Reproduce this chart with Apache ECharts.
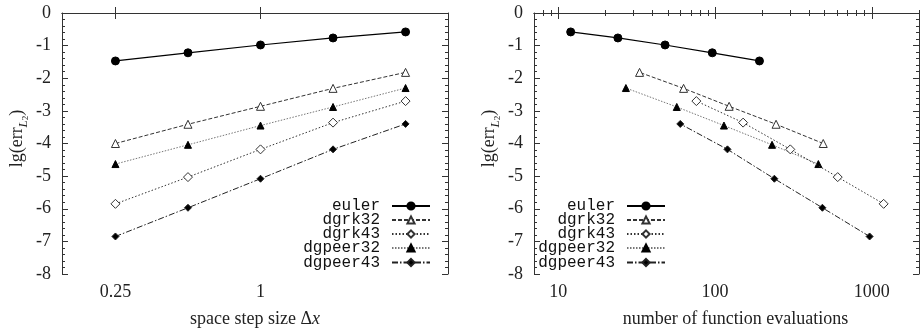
<!DOCTYPE html>
<html>
<head>
<meta charset="utf-8">
<script src="https://cdn.jsdelivr.net/npm/echarts@6/dist/echarts.min.js"></script>
<style>html,body{margin:0;padding:0;background:#fff}#c{width:921px;height:331px}</style>
</head>
<body>
<div id="c"></div>
<script>
// ---- data ----
const seriesNames = ['euler', 'dgrk32', 'dgrk43', 'dgpeer32', 'dgpeer43'];
const dx = [0.25, 0.5, 1, 2, 4];
const errEuler    = [-1.47, -1.22, -0.98, -0.765, -0.58];
const errDgrk32   = [-4.00, -3.41, -2.86, -2.31, -1.82];
const errDgrk43   = [-5.85, -5.03, -4.18, -3.36, -2.70];
const errDgpeer32 = [-4.63, -4.04, -3.45, -2.88, -2.30];
const errDgpeer43 = [-6.85, -5.97, -5.08, -4.18, -3.40];
const evEuler    = [192, 96, 48, 24, 12];
const evDgrk32   = [490, 245, 123, 63, 33];
const evDgrk43   = [1190, 606, 302, 151, 76];
const evDgpeer32 = [456, 231, 114, 57, 27];
const evDgpeer43 = [968, 484, 239, 120, 60];
const leftXTicks = [0.25, 1];
const rightXTicks = [10, 100, 1000];
const rightXMinorTicks = [8, 9, 20, 30, 40, 50, 60, 70, 80, 90, 200, 300, 400, 500, 600, 700, 800, 900, 2000];
const xTitleLeft = 'space step size Δ{i|x}';
const xTitleRight = 'number of function evaluations';
const yTitle = 'lg(err{sub|L}{sup|2})';

const errs = [errEuler, errDgrk32, errDgrk43, errDgpeer32, errDgpeer43];
const evs = [evEuler, evDgrk32, evDgrk43, evDgpeer32, evDgpeer43];

// ---- styles ----
const styles = [
  {symbol: 'circle', symbolSize: 8, color: '#000', fill: '#000', type: 'solid', width: 1.2},
  {symbol: 'triangle', symbolSize: 8, color: '#333', fill: '#fff', type: [4, 2], width: 1},
  {symbol: 'diamond', symbolSize: 9, color: '#333', fill: '#fff', type: [1.5, 2], width: 1},
  {symbol: 'triangle', symbolSize: 7, color: '#777', fill: '#000', type: [1.5, 1.5], width: 1, border: '#000'},
  {symbol: 'diamond', symbolSize: 7, color: '#222', fill: '#000', type: [6, 2, 1.5, 2], width: 1}
];

const serif = 'Liberation Serif';
const frame = '#333';
const labelStyle = {fontFamily: serif, fontSize: 18, color: '#222'};
function titleStyle(pad) {
  return {
    fontFamily: serif, fontSize: 18, color: '#222', lineHeight: 26, padding: pad || 0,
    rich: {
      i: {fontFamily: serif, fontSize: 18, fontStyle: 'italic', color: '#222'},
      sub: {fontFamily: serif, fontSize: 13, fontStyle: 'italic', color: '#222', lineHeight: 13, verticalAlign: 'bottom'},
      sup: {fontFamily: serif, fontSize: 9, color: '#222', lineHeight: 24, verticalAlign: 'bottom'}
    }
  };
}

const grids = [
  {left: 62, top: 13, width: 386, height: 261, outerBoundsMode: 'none', containLabel: false},
  {left: 534, top: 13, width: 385, height: 261, outerBoundsMode: 'none', containLabel: false}
];

function xAx(grid, pos, min, max, base, ticks, labels, len, showLine, name, pad) {
  return {
    type: 'log', logBase: base, gridIndex: grid, position: pos, min: min, max: max,
    axisLine: {show: showLine, lineStyle: {color: frame, width: 1}},
    axisTick: {show: true, inside: true, length: len, customValues: ticks, lineStyle: {color: frame}},
    axisLabel: {show: !!labels, customValues: labels || undefined, margin: 9, formatter: v => String(v), ...labelStyle},
    splitLine: {show: false},
    minorTick: {show: false},
    name: name || '', nameLocation: 'middle', nameGap: 29,
    nameTextStyle: titleStyle(pad)
  };
}
function yAx(grid, pos, showLabel, name) {
  return {
    type: 'value', gridIndex: grid, position: pos, min: -8, max: 0, interval: 1,
    axisLine: {show: true, lineStyle: {color: frame, width: 1}},
    axisTick: {show: true, inside: true, length: 6, lineStyle: {color: frame}},
    minorTick: {show: true, splitNumber: 5, length: 3, lineStyle: {color: frame}},
    axisLabel: {show: showLabel, margin: 11, formatter: v => String(v), ...labelStyle},
    splitLine: {show: false},
    name: name || '', nameLocation: 'middle', nameGap: 32, nameRotate: 90,
    nameTextStyle: titleStyle([0, 0, 0, 10])
  };
}

const xAxis = [
  xAx(0, 'bottom', 0.15, 6, 2, leftXTicks, leftXTicks, 6, true, xTitleLeft),
  xAx(0, 'top', 0.15, 6, 2, leftXTicks, null, 6, true),
  xAx(1, 'bottom', 7, 2000, 10, rightXTicks, rightXTicks, 6, true, xTitleRight, [0, 0, 0, 18]),
  xAx(1, 'bottom', 7, 2000, 10, rightXMinorTicks, null, 3, false),
  xAx(1, 'top', 7, 2000, 10, rightXTicks, null, 6, true),
  xAx(1, 'top', 7, 2000, 10, rightXMinorTicks, null, 3, false)
];
const yAxis = [
  yAx(0, 'left', true, yTitle), yAx(0, 'right', false),
  yAx(1, 'left', true, yTitle), yAx(1, 'right', false)
];

const series = [];
seriesNames.forEach((nm, k) => {
  const s = styles[k];
  const common = {
    name: nm, type: 'line', symbol: s.symbol, symbolSize: s.symbolSize,
    lineStyle: {color: s.color, type: s.type, width: s.width},
    itemStyle: {color: s.fill, borderColor: s.border || s.color, borderWidth: 1},
    showAllSymbol: true, animation: false, z: 10 - k, silent: true
  };
  series.push({...common, xAxisIndex: 0, yAxisIndex: 0, data: dx.map((v, i) => [v, errs[k][i]])});
  series.push({...common, xAxisIndex: 2, yAxisIndex: 2, data: evs[k].map((v, i) => [v, errs[k][i]])});
});

const rowTops = [198, 212, 226, 240, 254.5];
const legend = [];
seriesNames.forEach((nm, k) => {
  [490, 255].forEach(r => {
    legend.push({
      data: [nm], right: r, top: rowTops[k], orient: 'horizontal', align: 'right',
      itemWidth: 38, itemHeight: 9, padding: 0, selectedMode: false,
      textStyle: {fontFamily: 'Liberation Mono', fontSize: 16, color: '#111', padding: [0, 7, 0, 0], lineHeight: 16}
    });
  });
});

const chart = echarts.init(document.getElementById('c'), null, {renderer: 'canvas'});
chart.setOption({
  backgroundColor: '#fff', animation: false,
  grid: grids, xAxis: xAxis, yAxis: yAxis, series: series, legend: legend
});
</script>
</body>
</html>
